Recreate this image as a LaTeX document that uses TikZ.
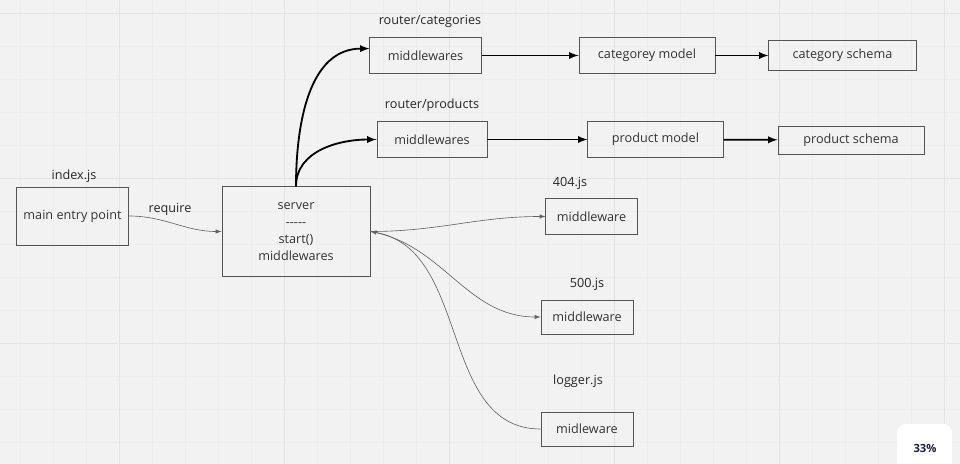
\documentclass[tikz,border=0pt]{standalone}
\usepackage{fontspec}
\setmainfont{Open Sans}
\usepackage{xcolor}
\usepackage{tikz}
\usetikzlibrary{positioning,calc}
\usetikzlibrary{shapes.geometric, arrows}
\definecolor{boardbg}{RGB}{242,242,242}
\definecolor{gridminor}{RGB}{237,237,237}
\definecolor{gridmajor}{RGB}{227,227,227}
\definecolor{boxline}{RGB}{85,85,85}
\definecolor{boxtext}{RGB}{51,51,51}
\definecolor{wirethin}{RGB}{100,100,100}
\definecolor{zoomtext}{RGB}{30,30,70}
\tikzstyle{box} = [rectangle, draw=boxline, line width=0.6pt, text=boxtext, inner sep=0pt, align=center]
\tikzstyle{lbl} = [text=black!85, inner sep=0pt]
\tikzstyle{wire} = [draw=wirethin, line width=0.45pt, ->, >=latex]
\tikzstyle{arrow} = [line width=1.3pt, ->, >=latex]

\begin{document}
\begin{tikzpicture}[x=0.025cm, y=-0.025cm, every node/.style={font=\fontsize{9}{12}\selectfont}]
\clip (0,0) rectangle (960,464);
\fill[boardbg] (0,0) rectangle (960,464);
% grid
\foreach \gx in {20,53,...,960} \draw[gridminor, line width=0.4pt] (\gx,0) -- (\gx,464);
\foreach \gy in {13,46,...,464} \draw[gridminor, line width=0.4pt] (0,\gy) -- (960,\gy);
\foreach \gx in {119,284,...,960} \draw[gridmajor, line width=0.6pt] (\gx,0) -- (\gx,464);
\foreach \gy in {13,178,343} \draw[gridmajor, line width=0.6pt] (0,\gy) -- (960,\gy);

% entry and server
\node[lbl] (indexlbl) at (74,176) {index.js};
\node[box, minimum width=2.78cm, minimum height=1.45cm] (entry) at (72.5,216) {main entry point};
\node[box, minimum width=3.7cm, minimum height=2.23cm] (server) at (296,231.5) {server\\{-}{-}{-}{-}{-}\\start()\\middlewares};
\node[lbl] (requirelbl) at (170,209) {require};

% router/categories
\node[lbl] (catlbl) at (430,21) {router/categories};
\node[box, minimum width=2.78cm, minimum height=0.88cm] (catmw) at (425.5,55.5) {middlewares};
\node[box, minimum width=3.4cm, minimum height=0.88cm] (catmodel) at (647,55.5) {categorey model};
\node[box, minimum width=3.68cm, minimum height=0.73cm] (catschema) at (842.5,55.5) {category schema};

% router/products
\node[lbl] (prodlbl) at (432,105) {router/products};
\node[box, minimum width=2.75cm, minimum height=0.88cm] (prodmw) at (432,139.5) {middlewares};
\node[box, minimum width=3.38cm, minimum height=0.88cm] (prodmodel) at (655.5,139.5) {product model};
\node[box, minimum width=3.65cm, minimum height=0.7cm] (prodschema) at (851,140) {product schema};

% error handlers and logger
\node[lbl] (nflbl) at (570,183) {404.js};
\node[box, minimum width=2.28cm, minimum height=0.88cm] (notfound) at (591.5,216.5) {middleware};
\node[lbl] (selbl) at (587,284) {500.js};
\node[box, minimum width=2.3cm, minimum height=0.85cm] (servererr) at (587,317) {middleware};
\node[lbl] (loglbl) at (578,381) {logger.js};
\node[box, minimum width=2.3cm, minimum height=0.85cm] (logger) at (587,429) {midleware};

% connectors
\draw[wire] (entry.east) to[out=0, in=180] (server.west);
\draw[arrow] (server.north) to[out=90, in=180] (catmw.173);
\draw[arrow] (server.north) to[out=90, in=180] (prodmw.west);
\draw[arrow] (catmw) -- (catmodel);
\draw[arrow] (catmodel) -- (catschema);
\draw[arrow] (prodmw) -- (prodmodel);
\draw[arrow] (prodmodel) -- (prodschema);
\draw[wire] (server.east) to[out=0, in=180] (notfound.west);
\draw[wire] (server.east) to[out=-10, in=180] (servererr.west);
\draw[wire] (logger.west) to[out=180, in=-10] (server.east);

% zoom badge
\fill[white, rounded corners=6pt] (897,424) rectangle (952,480);
\node[text=zoomtext, font=\bfseries\fontsize{8}{10}\selectfont] (zoom) at (925,448) {33\%};
\end{tikzpicture}
\end{document}
